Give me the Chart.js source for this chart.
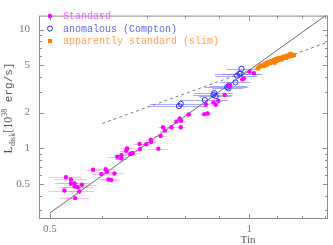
<!DOCTYPE html>
<html>
<head>
<meta charset="utf-8">
<script src="https://cdn.jsdelivr.net/npm/chart.js@4"></script>
<style>
  html, body { margin: 0; padding: 0; background: #fff; }
  canvas { display: block; }
</style>
</head>
<body>
<canvas id="c" width="333" height="245"></canvas>
<script>
// standard (magenta dots, horizontal errors)
const stdTin = [0.529, 0.538, 0.526, 0.538, 0.545, 0.545, 0.551, 0.559, 0.554, 0.546,
                0.581, 0.598, 0.607, 0.610, 0.626, 0.613, 0.619, 0.632, 0.641, 0.641,
                0.652, 0.654, 0.661, 0.667, 0.683, 0.684, 0.699, 0.710, 0.711, 0.729,
                0.735, 0.741, 0.746, 0.763, 0.776, 0.785, 0.789, 0.788, 0.810, 0.855,
                0.865, 0.860, 0.883, 0.890, 0.898, 0.918, 0.935, 0.981, 0.976, 1.000, 1.016];
const stdL   = [0.571, 0.547, 0.441, 0.506, 0.506, 0.477, 0.471, 0.494, 0.433, 0.381,
                0.660, 0.607, 0.668, 0.636, 0.614, 0.547, 0.541, 0.850, 0.876, 0.820,
                0.953, 1.000, 0.897, 0.913, 1.088, 0.988, 1.082, 1.184, 1.128, 0.994,
                1.273, 1.506, 1.410, 1.506, 1.679, 1.783, 1.710, 1.506, 1.929, 1.940,
                1.964, 2.340, 2.430, 2.330, 2.520, 2.820, 3.360, 3.880, 3.810, 4.430, 4.300];
const stdErr = [0.030, 0.030, 0.028, 0.030, 0.030, 0.025, 0.030, 0.028, 0.030, 0.028,
                0.015, 0.020, 0.020, 0.020, 0.020, 0.020, 0.020, 0.020, 0.015, 0.015,
                0.015, 0.015, 0.012, 0.015, 0.015, 0.015, 0.012, 0.012, 0.012, 0.025,
                0.015, 0.012, 0.012, 0.012, 0.012, 0.012, 0.012, 0.012, 0.012, 0.012,
                0.012, 0.015, 0.015, 0.015, 0.015, 0.000, 0.010, 0.010, 0.010, 0.010, 0.000];

// anomalous (Compton) – open blue circles
const compTin = [0.783, 0.788, 0.857, 0.883, 0.885, 0.890, 0.926, 0.932, 0.930, 0.953, 0.958, 0.966, 0.970, 0.973];
const compL   = [2.27, 2.37, 2.55, 2.82, 2.92, 2.75, 3.28, 3.38, 3.20, 3.59, 4.10, 4.25, 4.25, 4.68];
const compErr = [0.08, 0.08, 0.07, 0.06, 0.06, 0.05, 0.07, 0.06, 0.05, 0.05, 0.07, 0.08, 0.06, 0.05];

// apparently standard (slim) – orange squares
const slimTin = [1.030, 1.035, 1.040, 1.045, 1.050, 1.055, 1.060, 1.062, 1.065, 1.070,
                 1.075, 1.080, 1.085, 1.090, 1.092, 1.095, 1.100, 1.105, 1.110, 1.115,
                 1.120, 1.125, 1.130, 1.135, 1.140, 1.145, 1.150, 1.155, 1.160, 1.168];
const slimL   = [4.70, 4.85, 4.95, 5.00, 4.90, 5.15, 5.00, 5.25, 5.10, 5.35,
                 5.20, 5.45, 5.30, 5.55, 5.25, 5.65, 5.45, 5.75, 5.55, 5.80,
                 5.60, 5.90, 5.95, 5.75, 6.05, 5.90, 6.15, 6.25, 6.00, 6.10];

// reference lines (end points)
const solidT = [0.5, 1.31];
const solidL = [0.285, 13.4];
const dashT  = [0.6, 1.3143];
const dashL  = [1.62, 7.85];

const xTicks = [0.5, 0.6, 0.7, 0.8, 0.9, 1, 1.1, 1.2, 1.3];
const xLabels = { 0.5: "0.5", 1: "1" };
const yTicks = [0.3, 0.4, 0.5, 0.6, 0.7, 0.8, 0.9, 1, 2, 3, 4, 5, 6, 7, 8, 9, 10];
const yLabels = { 0.5: "0.5", 1: "1", 2: "2", 5: "5", 10: "10" };

const legendItems = [
  { text: "Standard",                   text_c: "#f060f0", mark: "dot" },
  { text: "anomalous (Compton)",        text_c: "#6666f0", mark: "ring" },
  { text: "apparently standard (slim)", text_c: "#ffa050", mark: "sq" },
];

const pts = (xs, ys) => xs.map((v, i) => ({ x: v, y: ys[i] }));

const AXIS = "#8c8c8c";

function drawErr(ctx, x, y, xs, ys, es, col) {
  ctx.strokeStyle = col;
  ctx.lineWidth = 1;
  xs.forEach((v, i) => {
    if (!es[i]) return;
    const py = Math.round(y.getPixelForValue(ys[i])) + 0.5;
    ctx.beginPath();
    ctx.moveTo(x.getPixelForValue(v - es[i]), py);
    ctx.lineTo(x.getPixelForValue(v + es[i]), py);
    ctx.stroke();
  });
}

const decor = {
  id: "decor",
  beforeDatasetsDraw(chart) {
    const { ctx, chartArea: a, scales: { x, y } } = chart;
    ctx.save();
    ctx.beginPath();
    ctx.rect(a.left, a.top, a.right - a.left, a.bottom - a.top);
    ctx.clip();
    drawErr(ctx, x, y, stdTin, stdL, stdErr, "rgba(255,110,255,0.5)");
    drawErr(ctx, x, y, compTin, compL, compErr, "rgba(110,110,255,0.6)");
    ctx.restore();
  },
  afterDraw(chart) {
    const { ctx, chartArea: a, scales: { x, y } } = chart;
    ctx.save();
    // frame
    ctx.strokeStyle = AXIS;
    ctx.lineWidth = 1;
    ctx.strokeRect(a.left + 0.5, a.top + 0.5, a.right - a.left - 1, a.bottom - a.top - 1);
    // inward ticks on all sides
    ctx.beginPath();
    xTicks.forEach(v => {
      const px = Math.round(x.getPixelForValue(v)) + 0.5;
      const len = xLabels[v] ? 5 : 3;
      ctx.moveTo(px, a.bottom); ctx.lineTo(px, a.bottom - len);
      ctx.moveTo(px, a.top);    ctx.lineTo(px, a.top + len);
    });
    yTicks.forEach(v => {
      const py = Math.round(y.getPixelForValue(v)) + 0.5;
      const len = yLabels[v] ? 5 : 3;
      ctx.moveTo(a.left, py);  ctx.lineTo(a.left + len, py);
      ctx.moveTo(a.right, py); ctx.lineTo(a.right - len, py);
    });
    ctx.stroke();

    // legend
    ctx.font = "10px 'Liberation Mono'";
    ctx.textBaseline = "middle";
    legendItems.forEach((it, i) => {
      const cy = 16 + i * 12.5, cx = 50;
      if (it.mark === "dot") {
        ctx.fillStyle = "#ff00ff";
        ctx.beginPath(); ctx.arc(cx, cy, 2.2, 0, Math.PI * 2); ctx.fill();
      } else if (it.mark === "ring") {
        ctx.strokeStyle = "#3030ff";
        ctx.beginPath(); ctx.arc(cx, cy, 2.5, 0, Math.PI * 2); ctx.stroke();
      } else {
        ctx.fillStyle = "#ff8000";
        ctx.fillRect(cx - 2, cy - 2, 4, 4);
      }
      ctx.fillStyle = it.text_c;
      ctx.fillText(it.text, 63, cy + 0.5);
    });

    // x title
    ctx.fillStyle = "#555";
    ctx.font = "11px 'Liberation Serif'";
    ctx.textAlign = "center";
    ctx.textBaseline = "alphabetic";
    ctx.fillText("Tin", 248, 243);

    // y title with sub/superscript
    const segs = [
      { t: "L",       f: "12px 'Liberation Serif'", dy: 0 },
      { t: "disk",    f: "8px 'Liberation Serif'",  dy: 3 },
      { t: "[10",     f: "12px 'Liberation Serif'", dy: 0 },
      { t: "38",      f: "8px 'Liberation Serif'",  dy: -5 },
      { t: " erg/s]", f: "11px 'Liberation Mono'",  dy: 0 },
    ];
    let total = 0;
    segs.forEach(s => { ctx.font = s.f; s.w = ctx.measureText(s.t).width; total += s.w; });
    ctx.translate(12, 108);
    ctx.rotate(-Math.PI / 2);
    ctx.textAlign = "left";
    let px = -total / 2;
    segs.forEach(s => {
      ctx.font = s.f;
      ctx.fillText(s.t, px, s.dy);
      px += s.w;
    });
    ctx.restore();
  },
};

const tickFont = { family: "'Liberation Serif'", size: 11 };

new Chart(document.getElementById("c"), {
  type: "scatter",
  data: {
    datasets: [
      { type: "line", data: pts(solidT, solidL), borderColor: "#6a6a6a", borderWidth: 1,
        pointRadius: 0, fill: false, order: 5 },
      { type: "line", data: pts(dashT, dashL), borderColor: "#7a7a7a", borderWidth: 1,
        borderDash: [3, 3], pointRadius: 0, fill: false, order: 5 },
      { label: "Standard", data: pts(stdTin, stdL), pointStyle: "circle", pointRadius: 2.2,
        backgroundColor: "#ff00ff", borderWidth: 0, order: 1 },
      { label: "anomalous (Compton)", data: pts(compTin, compL), pointStyle: "circle", pointRadius: 2.6,
        backgroundColor: "rgba(0,0,0,0)", borderColor: "#3030ff", borderWidth: 1, order: 1 },
      { label: "apparently standard (slim)", data: pts(slimTin, slimL), pointStyle: "rect", pointRadius: 2.8,
        backgroundColor: "#ff8000", borderWidth: 0, order: 1 },
    ],
  },
  options: {
    responsive: false,
    animation: false,
    layout: { padding: { top: 1, right: 1, left: 0, bottom: 0 } },
    plugins: { legend: { display: false }, tooltip: { enabled: false } },
    scales: {
      x: {
        type: "logarithmic", min: 0.4816, max: 1.3143,
        grid: { display: false, drawTicks: false }, border: { display: false },
        afterBuildTicks: s => { s.ticks = xTicks.map(v => ({ value: v })); },
        afterFit: s => { s.height = 26; },
        ticks: { autoSkip: false, maxRotation: 0, padding: 4, color: "#777", font: tickFont,
                 callback: v => xLabels[v] || "" },
      },
      y: {
        type: "logarithmic", min: 0.254, max: 13.12,
        grid: { display: false, drawTicks: false }, border: { display: false },
        afterBuildTicks: s => { s.ticks = yTicks.map(v => ({ value: v })); },
        afterFit: s => { s.width = 39; },
        ticks: { autoSkip: false, padding: 9, color: "#777", font: tickFont,
                 callback: v => yLabels[v] || "" },
      },
    },
  },
  plugins: [decor],
});
</script>
</body>
</html>
